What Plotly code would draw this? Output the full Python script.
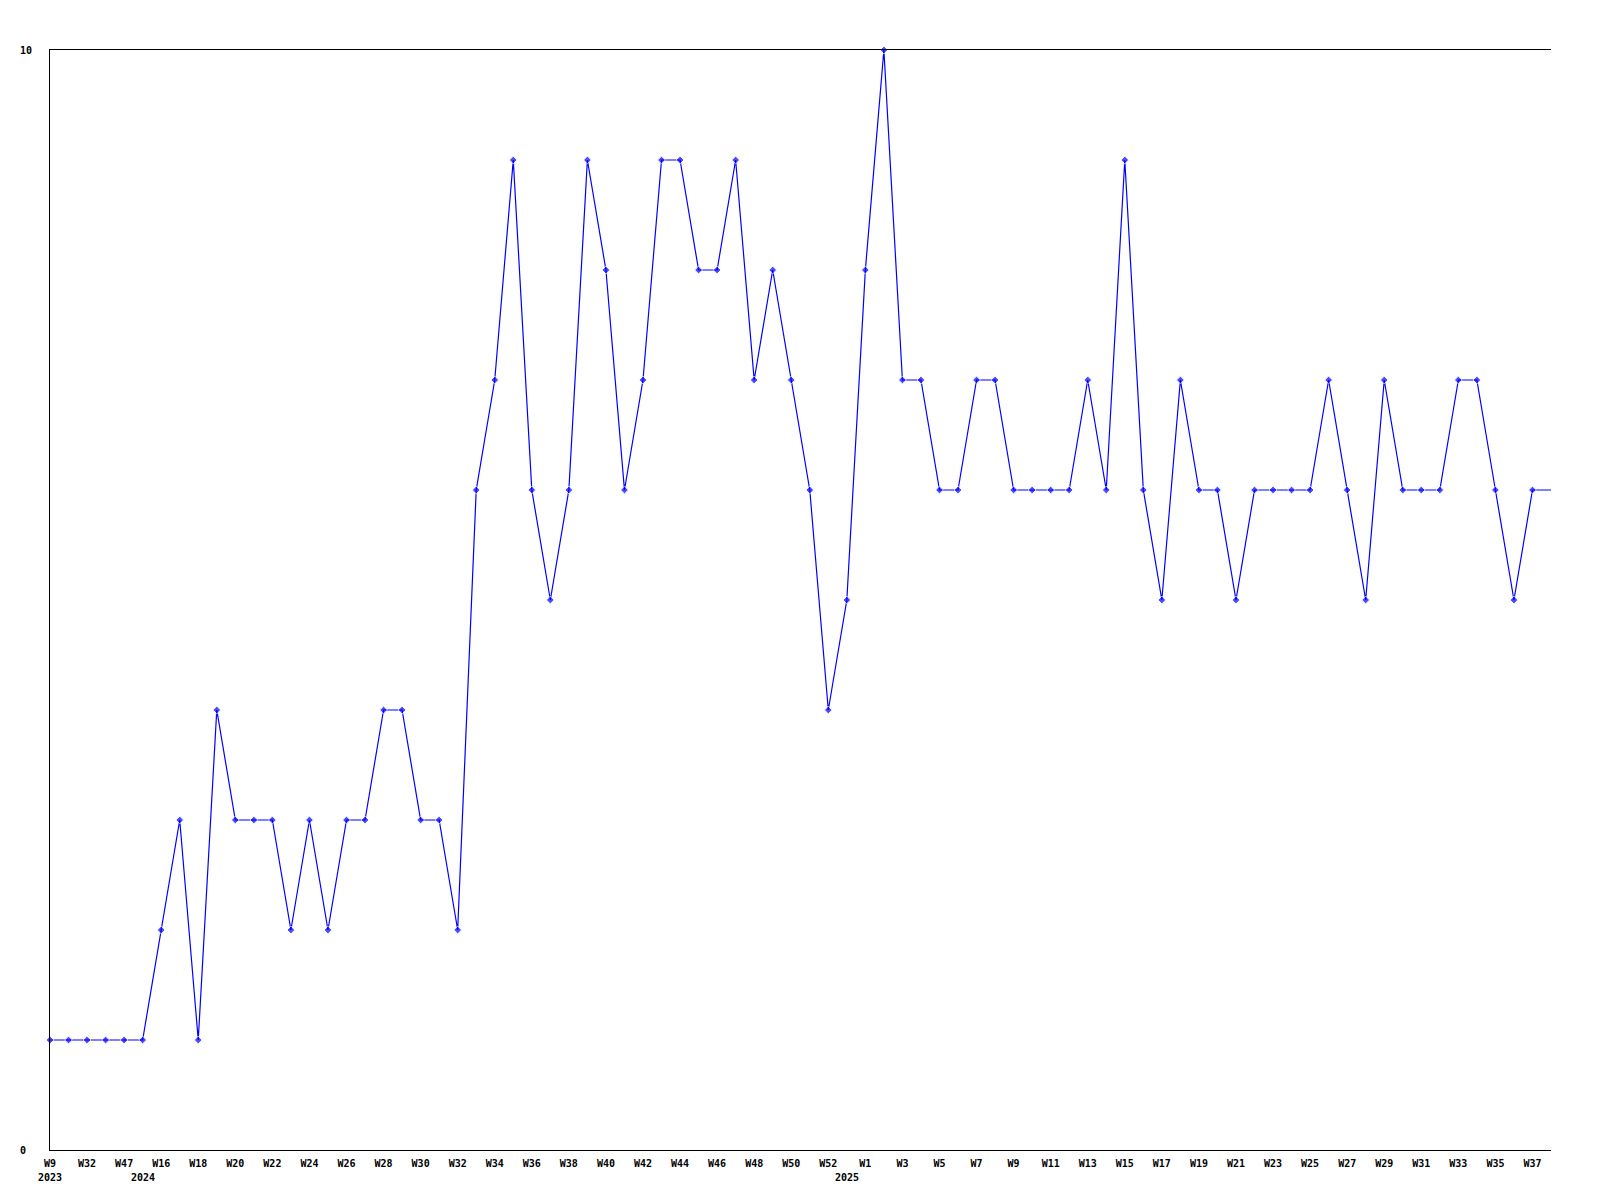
import plotly.graph_objects as go

# data
years = [2023] * 5 + [2024] * 38 + [2025] * 39
weeks = [9, 20, 32, 38, 47] + list(range(15, 53)) + list(range(0, 39))
values = [1, 1, 1, 1, 1, 1, 2, 3, 1, 4,
          3, 3, 3, 2, 3, 2, 3, 3, 4, 4,
          3, 3, 2, 6, 7, 9, 6, 5, 6, 9,
          8, 6, 7, 9, 9, 8, 8, 9, 7, 8,
          7, 6, 4, 5, 8, 10, 7, 7, 6, 6,
          7, 7, 6, 6, 6, 6, 7, 6, 9, 6,
          5, 7, 6, 6, 5, 6, 6, 6, 6, 7,
          6, 5, 7, 6, 6, 6, 7, 7, 6, 5,
          6, 6]

cats = [f"{y}-W{w}" for y, w in zip(years, weeks)]
week_labels = [f"W{w}" for w in weeks]

# first point of each year gets the year label
year_starts = [i for i in range(len(years)) if i == 0 or years[i] != years[i - 1]]

font = dict(family="DejaVu Sans Mono", size=10, color="black", weight="bold")

# last point sits on the frame edge, no marker there
sizes = [6] * (len(values) - 1) + [0]

fig = go.Figure(go.Scatter(
    x=cats, y=values,
    mode="lines+markers",
    line=dict(color="#0000ff", width=1.2),
    marker=dict(color="#0000ff", size=sizes, symbol="diamond"),
    cliponaxis=False,
))

for i in year_starts:
    fig.add_annotation(
        x=cats[i], y=0, yref="paper", yshift=-27,
        text=str(years[i]), showarrow=False, font=font,
        yanchor="middle",
    )

fig.update_xaxes(
    type="category",
    range=[0, len(cats) - 1],
    tickvals=cats[::2],
    ticktext=week_labels[::2],
    tickfont=font,
    ticks="", ticklabelstandoff=4,
    showline=True, linecolor="black", linewidth=1, mirror=True,
    showgrid=False, zeroline=False,
)
fig.update_yaxes(
    range=[0, 10],
    tickvals=[0, 10],
    ticktext=["0\u00a0", "10"],
    tickfont=font,
    ticks="", ticklabelstandoff=15,
    showline=True, linecolor="black", linewidth=1,
    showgrid=False, zeroline=False,
)
# page body has an 8px margin, so the figure is 8px smaller
fig.update_layout(
    width=1592, height=1192,
    margin=dict(l=42, r=49, t=42, b=50),
    plot_bgcolor="white", paper_bgcolor="white",
    showlegend=False,
)

fig.write_html("out.html")
